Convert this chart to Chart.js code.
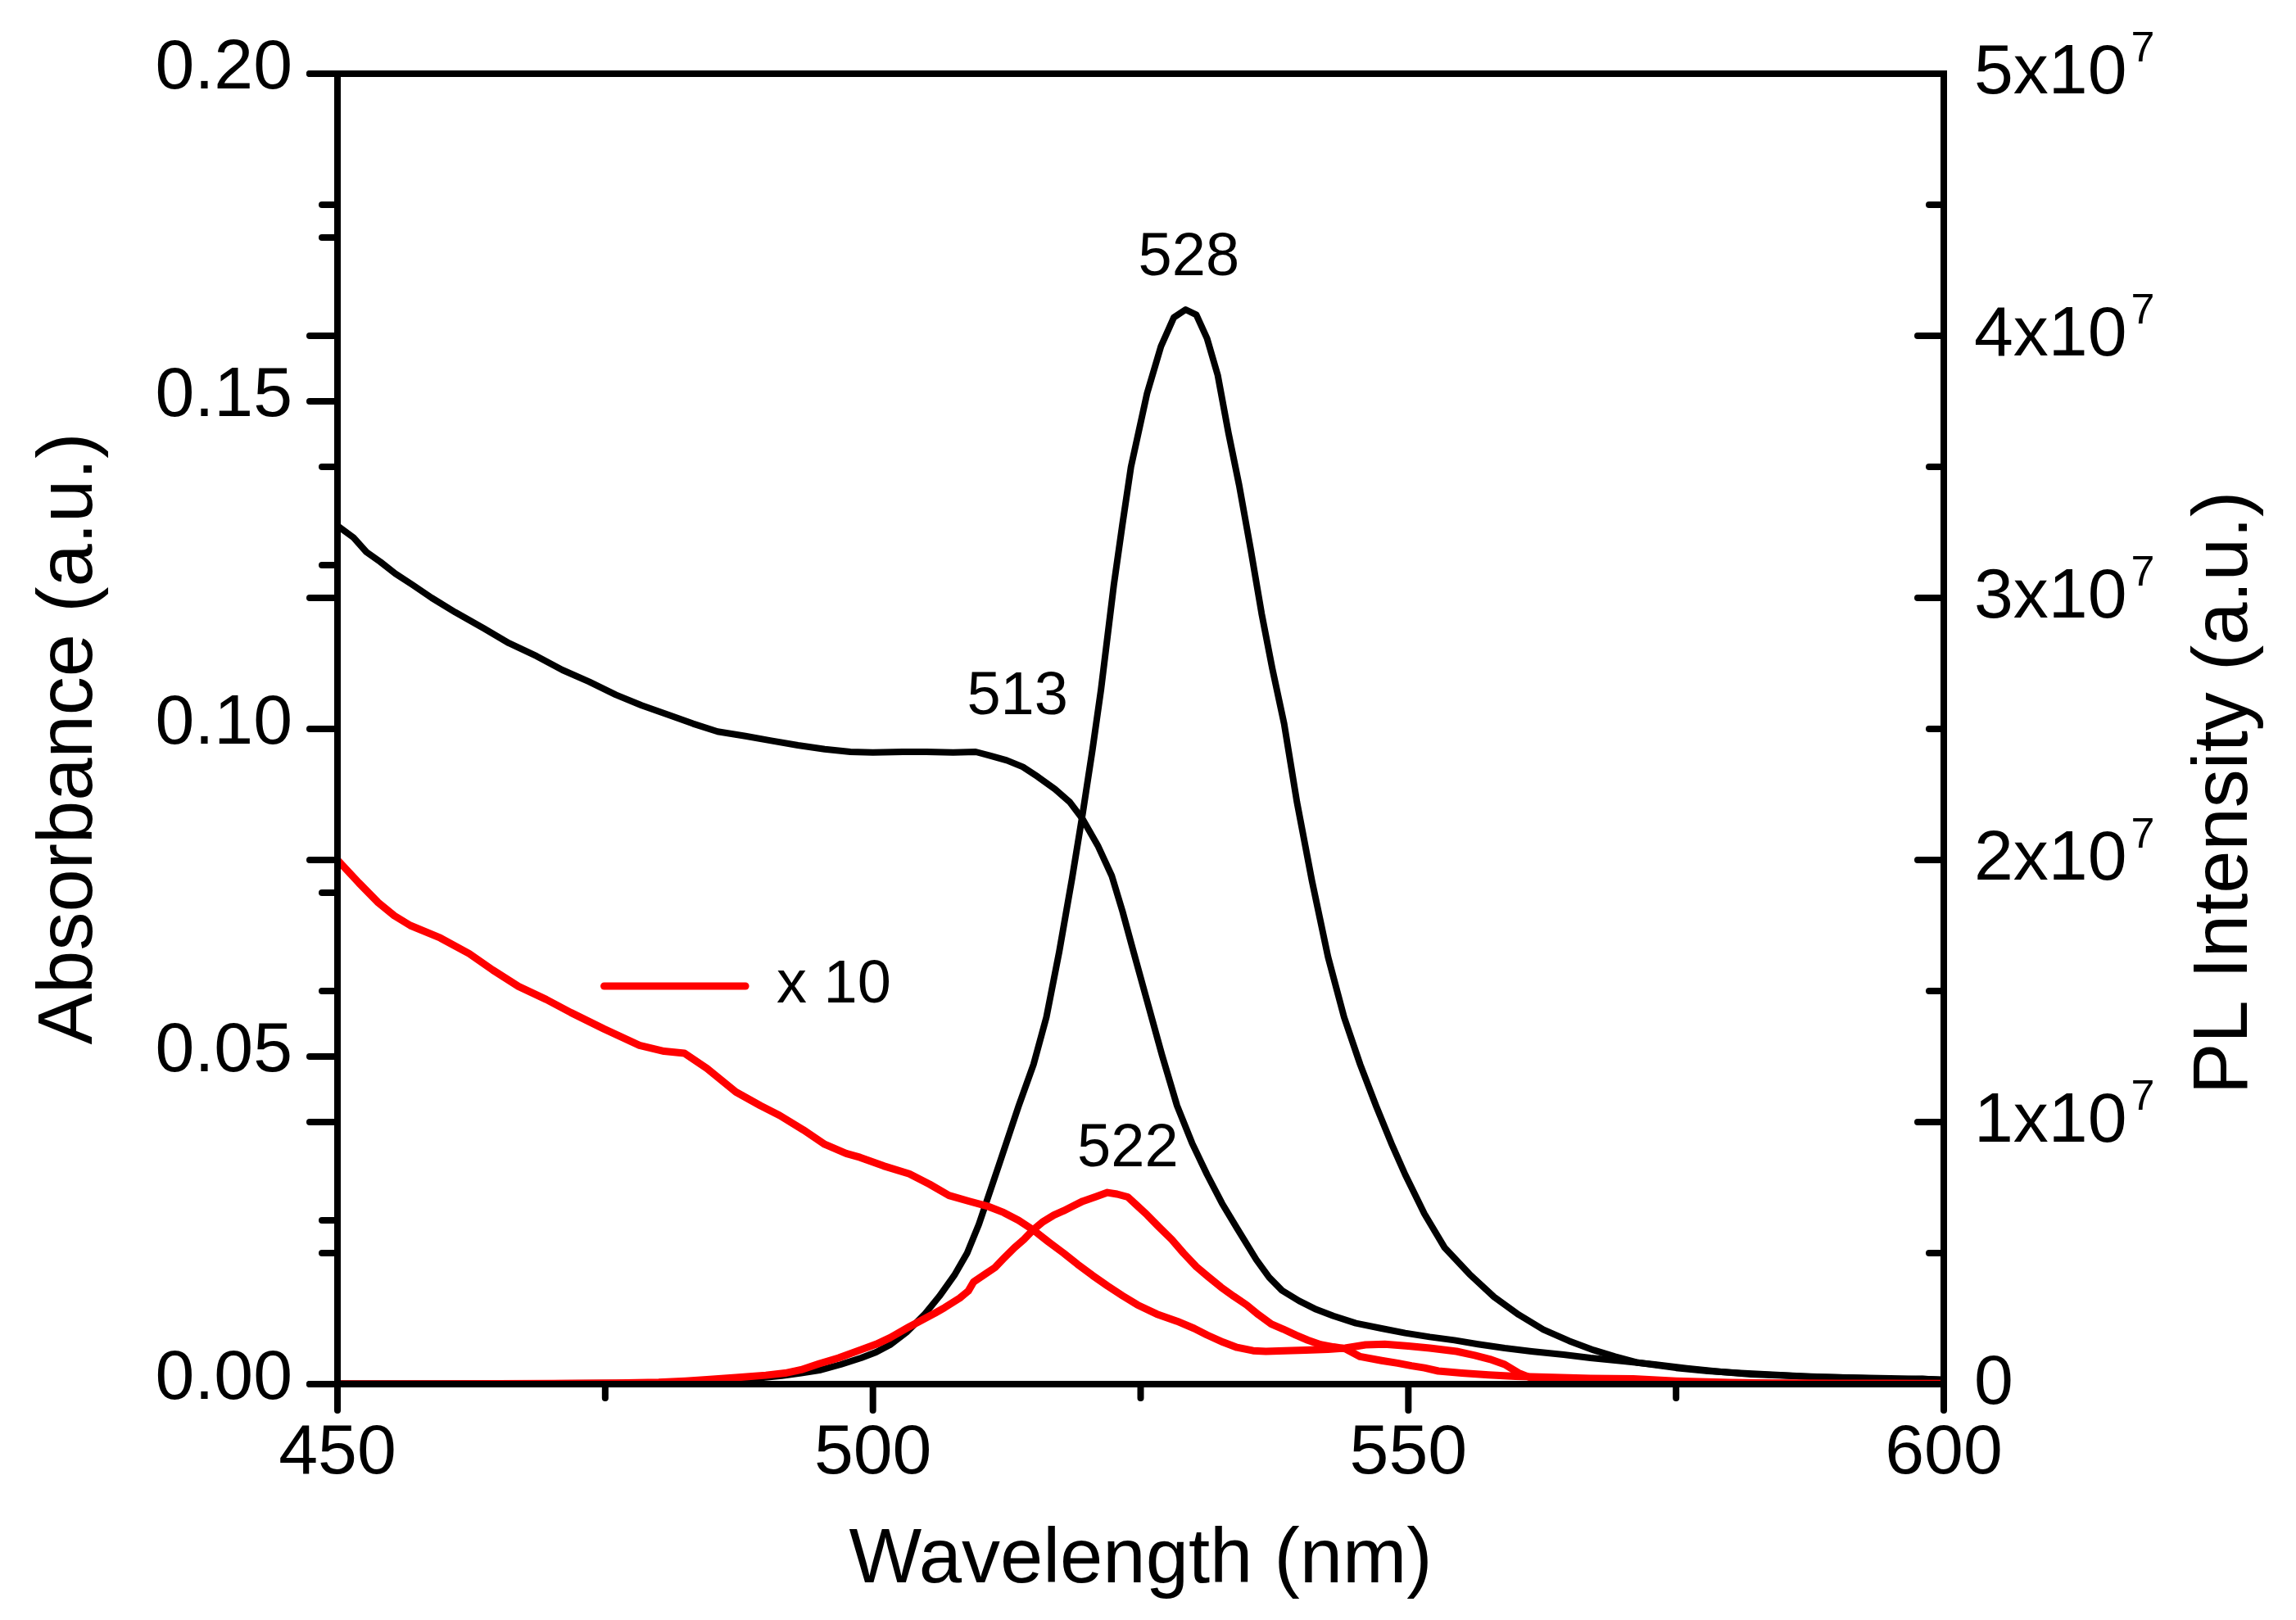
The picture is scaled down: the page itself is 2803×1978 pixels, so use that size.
<!DOCTYPE html>
<html>
<head>
<meta charset="utf-8">
<script src="https://cdn.jsdelivr.net/npm/chart.js@4/dist/chart.umd.min.js"></script>
<style>
html,body{margin:0;padding:0;background:#fff;}
#c{display:block;}
</style>
</head>
<body>
<canvas id="c" width="2803" height="1978"></canvas>
<script>
// ---------------- DATA ----------------
// Black absorbance (left axis)
const absBlackWl = [450,451.5,452.7,454,455.4,457,458.8,461,463.7,466,468.6,471,473.5,476,478.4,481,483.2,485.5,488.1,490.5,493,495.5,497.9,500,502.8,505,507.5,509.6,511,512.5,514,515.4,517,518.4,519.6,521,522.3,523.3,524.2,525.6,527,528.4,529.8,531.2,532.6,534,535.8,537,538.2,539.8,541.4,543,545.1,547.5,549.7,552,554.3,556.5,559,561.5,564.5,567,570.1,573,576,579,582,585,588,591,594,597,600];
const absBlackVal = [0.1310,0.1292,0.1270,0.1255,0.1237,0.1220,0.1200,0.1178,0.1153,0.1131,0.1111,0.1090,0.1072,0.1052,0.1036,0.1021,0.1008,0.0996,0.0989,0.0982,0.0975,0.0969,0.0965,0.0964,0.0965,0.0965,0.0964,0.0965,0.0959,0.0952,0.0942,0.0927,0.0908,0.0888,0.0862,0.0822,0.0776,0.0722,0.0668,0.0585,0.0502,0.0425,0.0368,0.0320,0.0276,0.0238,0.0190,0.0163,0.0143,0.0127,0.0114,0.0104,0.0093,0.0085,0.0078,0.0072,0.0067,0.0061,0.0055,0.0050,0.0045,0.0040,0.0035,0.0030,0.0024,0.0019,0.0015,0.0013,0.0011,0.0010,0.0009,0.0008,0.0007];

// Black PL (right axis)
const plBlackWl = [450,460,470,478,483,486,489,491.5,493.3,495,497,498.9,500.3,501.6,503.2,504.8,506.2,507.6,508.8,509.9,511.8,513.6,515,516.2,517.4,518.6,519.6,520.5,521.3,522.5,523.3,524.1,525.6,526.9,528.1,529.2,530.2,531.2,532.2,533.2,534.2,535.3,536.3,537.3,538.4,539.6,541,542.5,544,545.5,547,548.4,549.7,551.5,553.4,555.7,558,560.3,562.6,565,567.3,569.3,571.3,575,578,581,584,587,590,593,596,598,600];
const plBlackVal = [0.02e6,0.02e6,0.03e6,0.05e6,0.08e6,0.13e6,0.22e6,0.32e6,0.42e6,0.53e6,0.75e6,1.0e6,1.22e6,1.5e6,2.0e6,2.65e6,3.35e6,4.15e6,5.0e6,6.1e6,8.4e6,10.6e6,12.2e6,14.0e6,16.5e6,19.3e6,21.8e6,24.2e6,26.5e6,30.5e6,32.8e6,35.0e6,37.8e6,39.6e6,40.7e6,41.0e6,40.8e6,39.9e6,38.5e6,36.3e6,34.3e6,31.8e6,29.4e6,27.3e6,25.2e6,22.2e6,19.2e6,16.3e6,14.0e6,12.2e6,10.6e6,9.2e6,8.0e6,6.5e6,5.2e6,4.2e6,3.33e6,2.65e6,2.08e6,1.65e6,1.3e6,1.05e6,0.83e6,0.62e6,0.5e6,0.42e6,0.36e6,0.3e6,0.26e6,0.22e6,0.18e6,0.2e6,0.15e6];

// Red absorbance x10 (left axis)
const absRedWl = [450,452,453.8,455.3,456.8,459.6,462.3,464.5,466.9,469.5,471.8,474.9,478.2,480.5,482.4,484.5,487.2,489.5,491.3,493.5,495.5,497.5,498.8,501,503.4,505.3,507.1,509,510.8,512.2,513.6,515,516.4,517.8,519.1,520.5,521.9,523.3,524.7,526.5,528.4,530,531.2,532.7,534,535.5,536.7,538.5,540.4,542.5,544.1,546,547.8,550,552,554.5,556.2,557.6,559,560.3,561.7,564,570,580,590,600];
const absRedVal = [0.0800,0.0765,0.0735,0.0715,0.0700,0.0681,0.0657,0.0632,0.0607,0.0587,0.0567,0.0542,0.0517,0.0508,0.0505,0.0482,0.0446,0.0425,0.0410,0.0388,0.0366,0.0352,0.0346,0.0333,0.0321,0.0305,0.0288,0.0279,0.0271,0.0262,0.0250,0.0235,0.0217,0.0200,0.0183,0.0166,0.0150,0.0135,0.0121,0.0107,0.0096,0.0085,0.0075,0.0064,0.0056,0.0051,0.0050,0.0051,0.0052,0.0053,0.0055,0.0060,0.0061,0.0058,0.0055,0.0050,0.0044,0.0038,0.0030,0.0017,0.0008,0.0005,0.0003,0.0002,0.0001,0.0001];

// Red PL x10 (right axis)
const plRedWl = [450,460,470,476,480,482.5,484.5,487.2,490,491.8,493.3,495,496.8,498.8,500.3,501.6,503.4,505.8,506.7,508.1,508.9,509.4,510.5,511.4,512.2,513.2,514.1,515,515.9,516.9,517.8,518.7,519.6,520.8,521.9,522.8,523.8,524.7,525.6,526.7,527.9,529,530.2,531.3,532.5,533.7,534.9,536,537.2,538.3,539.5,540.6,541.8,543,544.1,545.5,547.5,549,550.3,551.5,552.8,555,557.5,560,563.6,567,571,575,580,585,590,595,600];
const plRedVal = [0,0.01e6,0.02e6,0.04e6,0.07e6,0.12e6,0.17e6,0.25e6,0.34e6,0.42e6,0.55e6,0.78e6,1.0e6,1.3e6,1.52e6,1.77e6,2.19e6,2.71e6,2.92e6,3.28e6,3.55e6,3.9e6,4.2e6,4.45e6,4.79e6,5.2e6,5.52e6,5.9e6,6.2e6,6.45e6,6.61e6,6.8e6,6.98e6,7.15e6,7.31e6,7.25e6,7.14e6,6.8e6,6.46e6,6.0e6,5.52e6,5.0e6,4.48e6,4.1e6,3.7e6,3.35e6,3.02e6,2.65e6,2.29e6,2.1e6,1.87e6,1.68e6,1.51e6,1.42e6,1.35e6,1.05e6,0.9e6,0.8e6,0.7e6,0.62e6,0.5e6,0.42e6,0.35e6,0.3e6,0.26e6,0.22e6,0.2e6,0.12e6,0.06e6,0.03e6,0.02e6,0.02e6,0.01e6];

// Tick labels
const rightTickLabels = ['0','1x10','2x10','3x10','4x10','5x10'];
const rightTickExponent = '7';

// Texts and annotations (wavelength, left-axis value)
const xTitle = 'Wavelength (nm)';
const leftTitle = 'Absorbance (a.u.)';
const rightTitle = 'PL Intensity (a.u.)';
const peakLabels = ['528','513','522'];
const peakLabelWl = [529.5,513.5,523.8];
const peakLabelVal = [0.17175,0.10475,0.03575];
const legendText = 'x 10';
const legendLineWl = [474.9,488.1];
const legendTextWl = 491.0;
const legendVal = 0.06075;

// ---------------- CHART ----------------
const FONT = '"Liberation Sans", Arial, Helvetica, sans-serif';
const pts = (xs, ys) => xs.map((x, i) => ({x: x, y: ys[i]}));

const whiteBg = {
  id: 'whiteBg',
  beforeDraw(chart) {
    const c = chart.ctx;
    c.save(); c.fillStyle = '#fff'; c.fillRect(0, 0, chart.width, chart.height); c.restore();
  }
};

const frame = {
  id: 'frame',
  afterDatasetsDraw(chart) {
    const ctx = chart.ctx, a = chart.chartArea, s = chart.scales;
    const xs = s.x, yL = s.y, yR = s.y2;
    const line = (x1, y1, x2, y2) => { ctx.beginPath(); ctx.moveTo(x1, y1); ctx.lineTo(x2, y2); ctx.stroke(); };
    const split = (scale) => {
      const v = scale.ticks.map(t => t.value);
      const minor = [];
      for (let i = 0; i < v.length - 1; i++) minor.push((v[i] + v[i + 1]) / 2);
      return {major: v, minor: minor};
    };
    const MAJ = 34, MIN = 19, LW = 8;
    ctx.save();
    ctx.strokeStyle = '#000';
    ctx.lineWidth = LW;
    ctx.lineCap = 'round';
    const tL = split(yL), tR = split(yR), tX = split(xs);
    // left axis: both scales, outward
    tL.major.forEach(v => { const p = yL.getPixelForValue(v); line(a.left, p, a.left - MAJ, p); });
    tL.minor.forEach(v => { const p = yL.getPixelForValue(v); line(a.left, p, a.left - MIN, p); });
    tR.major.forEach(v => { const p = yR.getPixelForValue(v); line(a.left, p, a.left - MAJ, p); });
    tR.minor.forEach(v => { const p = yR.getPixelForValue(v); line(a.left, p, a.left - MIN, p); });
    // right axis: inward
    tR.major.forEach(v => { const p = yR.getPixelForValue(v); line(a.right, p, a.right - 32, p); });
    tR.minor.forEach(v => { const p = yR.getPixelForValue(v); line(a.right, p, a.right - 18, p); });
    // bottom axis: outward
    tX.major.forEach(v => { const p = xs.getPixelForValue(v); line(p, a.bottom, p, a.bottom + 32); });
    tX.minor.forEach(v => { const p = xs.getPixelForValue(v); line(p, a.bottom, p, a.bottom + 17); });
    // frame
    ctx.lineCap = 'square';
    line(a.left, a.top, a.right, a.top);
    line(a.left, a.bottom, a.right, a.bottom);
    ctx.lineCap = 'butt';
    line(a.left, a.top - LW / 2, a.left, a.bottom + 32);
    line(a.right, a.top - LW / 2, a.right, a.bottom + 32);

    // right tick labels with superscript
    ctx.fillStyle = '#000';
    yR.ticks.forEach((t, i) => {
      const p = yR.getPixelForValue(t.value);
      const txt = rightTickLabels[i];
      ctx.font = '86px ' + FONT;
      ctx.textAlign = 'left';
      ctx.textBaseline = 'middle';
      const x0 = a.right + 37;
      ctx.fillText(txt, x0, p);
      if (txt !== '0') {
        const w = ctx.measureText(txt).width;
        ctx.font = '52px ' + FONT;
        ctx.textBaseline = 'alphabetic';
        ctx.fillText(rightTickExponent, x0 + w + 5, p - 15);
      }
    });

    // axis titles
    ctx.font = '94px ' + FONT;
    ctx.textAlign = 'center';
    ctx.textBaseline = 'alphabetic';
    ctx.fillText(xTitle, (a.left + a.right) / 2, 1932);
    ctx.save(); ctx.translate(112, 902); ctx.rotate(-Math.PI / 2); ctx.fillText(leftTitle, 0, 0); ctx.restore();
    ctx.save(); ctx.translate(2743, 968); ctx.rotate(-Math.PI / 2); ctx.fillText(rightTitle, 0, 0); ctx.restore();

    // peak annotations
    ctx.font = '74px ' + FONT;
    ctx.textAlign = 'center';
    ctx.textBaseline = 'middle';
    peakLabels.forEach((txt, i) => {
      ctx.fillText(txt, xs.getPixelForValue(peakLabelWl[i]), yL.getPixelForValue(peakLabelVal[i]));
    });

    // legend "x 10"
    const ly = yL.getPixelForValue(legendVal);
    ctx.strokeStyle = '#ff0000';
    ctx.lineCap = 'round';
    ctx.lineWidth = 9;
    line(xs.getPixelForValue(legendLineWl[0]), ly, xs.getPixelForValue(legendLineWl[1]), ly);
    ctx.textAlign = 'left';
    ctx.fillStyle = '#000';
    ctx.fillText(legendText, xs.getPixelForValue(legendTextWl), ly);
    ctx.restore();
  }
};

const common = {pointRadius: 0, pointHoverRadius: 0, tension: 0, borderJoinStyle: 'round', borderCapStyle: 'round', fill: false};

new Chart(document.getElementById('c'), {
  type: 'line',
  data: {
    datasets: [
      Object.assign({label: 'PL x10', data: pts(plRedWl, plRedVal), yAxisID: 'y2', borderColor: '#ff0000', borderWidth: 9}, common),
      Object.assign({label: 'Absorbance x10', data: pts(absRedWl, absRedVal), yAxisID: 'y', borderColor: '#ff0000', borderWidth: 9}, common),
      Object.assign({label: 'PL', data: pts(plBlackWl, plBlackVal), yAxisID: 'y2', borderColor: '#000000', borderWidth: 8}, common),
      Object.assign({label: 'Absorbance', data: pts(absBlackWl, absBlackVal), yAxisID: 'y', borderColor: '#000000', borderWidth: 8}, common)
    ]
  },
  options: {
    responsive: false,
    devicePixelRatio: 1,
    animation: false,
    events: [],
    layout: {padding: {top: 90, left: 0, right: 0, bottom: 0}},
    plugins: {legend: {display: false}, tooltip: {enabled: false}, title: {display: false}},
    scales: {
      x: {
        type: 'linear', position: 'bottom', min: 450, max: 600,
        ticks: {stepSize: 50, color: '#000', font: {family: FONT, size: 86}, padding: 2, maxRotation: 0, autoSkip: false},
        grid: {display: true, drawOnChartArea: false, drawTicks: true, tickLength: 32, color: 'rgba(0,0,0,0)'},
        border: {display: false},
        afterFit: (sc) => { sc.height = 288; }
      },
      y: {
        type: 'linear', position: 'left', min: 0, max: 0.2,
        ticks: {stepSize: 0.05, color: '#000', font: {family: FONT, size: 86}, padding: 21, labelOffset: -6,
                callback: (v) => Number(v).toFixed(2)},
        grid: {display: true, drawOnChartArea: false, drawTicks: true, tickLength: 34, color: 'rgba(0,0,0,0)'},
        border: {display: false},
        afterFit: (sc) => { sc.width = 412; }
      },
      y2: {
        type: 'linear', position: 'right', min: 0, max: 5e7,
        ticks: {stepSize: 1e7, display: false},
        grid: {display: false, drawOnChartArea: false},
        border: {display: false},
        afterFit: (sc) => { sc.width = 430; }
      }
    }
  },
  plugins: [whiteBg, frame]
});
</script>
</body>
</html>
